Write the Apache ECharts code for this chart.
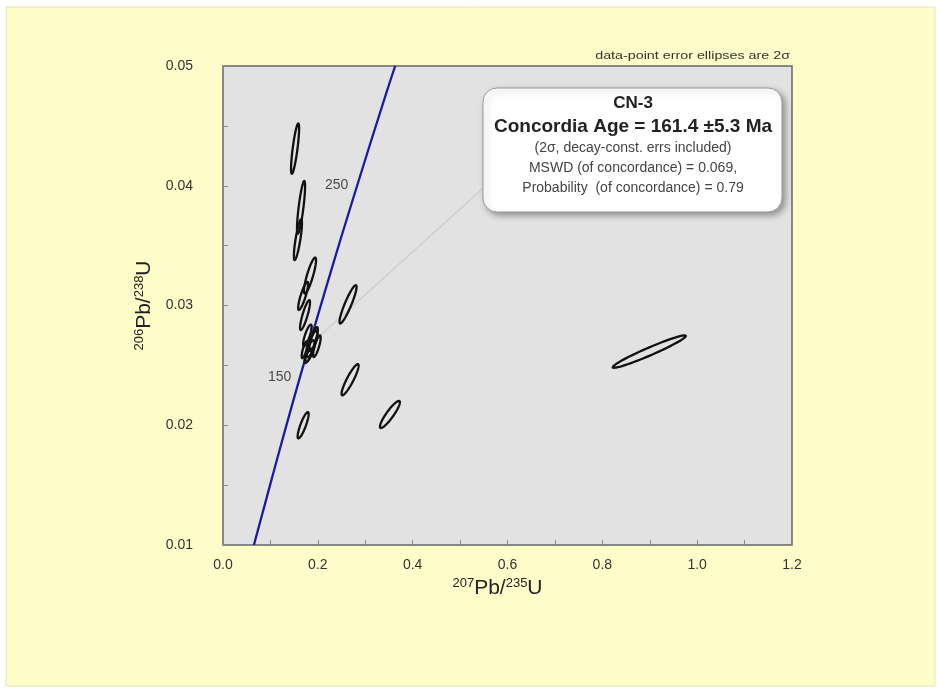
<!DOCTYPE html>
<html><head><meta charset="utf-8">
<script src="https://cdn.jsdelivr.net/npm/echarts@6/dist/echarts.min.js"></script>
<style>html,body{margin:0;padding:0;background:#fff;}#c{width:939px;height:689px;}</style>
</head><body><div id="c"></div>
<script>
// Axis ticks
const xTicks = [0.0, 0.2, 0.4, 0.6, 0.8, 1.0, 1.2];
const yTicks = [0.01, 0.02, 0.03, 0.04, 0.05];
// Error ellipses (2 sigma): centre x (207Pb/235U), centre y (206Pb/238U), half-width x, half-height y, correlation
const ellCx  = [0.152, 0.1646, 0.158, 0.1835, 0.169, 0.173, 0.178, 0.188, 0.198, 0.180, 0.183, 0.191, 0.172, 0.2637, 0.268, 0.352, 0.169, 0.899];
const ellCy  = [0.0431, 0.0382, 0.0355, 0.0325, 0.0308, 0.0292, 0.0275, 0.0268, 0.0266, 0.0258, 0.0262, 0.0272, 0.0263, 0.0301, 0.0238, 0.0209, 0.0200, 0.02615];
const ellSx  = [0.0085, 0.0085, 0.0085, 0.0127, 0.0105, 0.0105, 0.009, 0.011, 0.008, 0.008, 0.010, 0.009, 0.006, 0.018, 0.018, 0.021, 0.0116, 0.077];
const ellSy  = [0.0021, 0.0022, 0.0017, 0.0015, 0.00117, 0.00125, 0.0009, 0.0011, 0.0009, 0.0006, 0.0009, 0.0010, 0.0007, 0.0016, 0.0013, 0.00113, 0.0011, 0.00135];
const ellRho = [0.8, 0.8, 0.8, 0.85, 0.85, 0.85, 0.8, 0.8, 0.8, 0.8, 0.75, 0.8, 0.75, 0.91, 0.9, 0.9, 0.85, 0.965];
// Concordia curve points
const concX = [0.0652, 0.1035, 0.1589, 0.2175, 0.2792, 0.3435, 0.3631];
const concY = [0.0100, 0.01563, 0.02354, 0.03151, 0.03954, 0.04763, 0.0500];
// Age labels on the concordia
const ageLabels = ['150', '250'];
const ageX = [0.1589, 0.2792];
const ageY = [0.02354, 0.03954];
// Connector from concordia age to callout
const connX = [0.180, 0.568];
const connY = [0.0266, 0.0405];
// Callout text
const boxTitle = 'CN-3';
const boxAge = 'Concordia Age = 161.4 ±5.3 Ma';
const boxLines = ['(2σ, decay-const. errs included)', 'MSWD (of concordance) = 0.069,', 'Probability  (of concordance) = 0.79'];
const noteText = 'data-point error ellipses are 2σ';

const ellData = ellCx.map((c, i) => [c, ellCy[i], ellSx[i], ellSy[i], ellRho[i]]);
const chart = echarts.init(document.getElementById('c'), null, {renderer: 'canvas'});
const font = 'Liberation Sans, Arial, sans-serif';
const nameRich = {
  m: {fontSize: 21, color: '#222', fontFamily: font},
  sup: {fontSize: 13, color: '#222', fontFamily: font, verticalAlign: 'top', padding: [0, 0, 10, 0]}
};

chart.setOption({
  backgroundColor: '#ffffff',
  animation: false,
  textStyle: {fontFamily: font},
  grid: {left: 223, right: 147, top: 66, bottom: 144, show: true, backgroundColor: '#e2e2e2', borderColor: '#666', borderWidth: 1.5},
  xAxis: {
    type: 'value', min: 0, max: 1.2, interval: 0.2, z: 5,
    axisLine: {show: false},
    axisTick: {show: true, inside: true, length: 5, lineStyle: {color: '#8a8a8a'}},
    minorTick: {show: true, splitNumber: 2, length: 5, lineStyle: {color: '#8a8a8a'}},
    splitLine: {show: false},
    axisLabel: {color: '#333', fontSize: 14, fontFamily: font, margin: 13, formatter: v => v.toFixed(1)},
    name: '{sup|207}{m|Pb/}{sup|235}{m|U}', nameLocation: 'middle', nameGap: 29,
    nameTextStyle: {rich: nameRich, padding: [0, 20, 0, 0]}
  },
  yAxis: {
    type: 'value', min: 0.01, max: 0.05, interval: 0.01, z: 5,
    axisLine: {show: false},
    axisTick: {show: true, inside: true, length: 5, lineStyle: {color: '#8a8a8a'}},
    minorTick: {show: true, splitNumber: 2, length: 5, lineStyle: {color: '#8a8a8a'}},
    splitLine: {show: false},
    axisLabel: {color: '#333', fontSize: 14, fontFamily: font, margin: 30, formatter: v => v.toFixed(2)},
    name: '{sup|206}{m|Pb/}{sup|238}{m|U}', nameLocation: 'middle', nameGap: 66, nameRotate: 90,
    nameTextStyle: {rich: nameRich}
  },
  series: [
    {
      type: 'line', data: connX.map((x, i) => [x, connY[i]]), symbol: 'none', silent: true,
      lineStyle: {color: '#cdcdcd', width: 1.3}, z: 2
    },
    {
      type: 'line', data: concX.map((x, i) => [x, concY[i]]), symbol: 'none', smooth: true, silent: true,
      lineStyle: {color: '#1a1aa6', width: 2.3}, z: 3, clip: true
    },
    {
      type: 'custom', data: ellData, z: 4,
      renderItem: function (params, api) {
        const cx = api.value(0), cy = api.value(1), sx = api.value(2), sy = api.value(3), r = api.value(4);
        const pts = [];
        const q = Math.sqrt(1 - r * r);
        for (let k = 0; k < 72; k++) {
          const t = k / 72 * Math.PI * 2;
          const x = cx + sx * Math.cos(t);
          const y = cy + sy * (r * Math.cos(t) + q * Math.sin(t));
          pts.push(api.coord([x, y]));
        }
        return {type: 'polygon', shape: {points: pts}, style: {fill: 'none', stroke: '#111', lineWidth: 2.3}};
      }
    },
    {
      type: 'scatter', data: ageX.map((x, i) => [x, ageY[i], ageLabels[i]]), symbolSize: 0, z: 5,
      label: {show: true, position: 'left', distance: 7, offset: [0, -6], formatter: p => p.data[2], color: '#222', fontSize: 14, fontFamily: font}
    }
  ],
  graphic: [
    {type: 'rect', z: -10, shape: {x: 6, y: 7, width: 929, height: 679}, style: {fill: '#fefdc9', stroke: '#e6e4b8', lineWidth: 1}},
    {type: 'text', z: 10, x: 790, y: 50, scaleX: 1.3, style: {text: noteText, textAlign: 'right', fontSize: 11, fontFamily: font, fill: '#333'}},
    {type: 'rect', z: 20, shape: {x: 483, y: 88, width: 299, height: 124, r: 14},
      style: {fill: '#ffffff', stroke: '#9a9a9a', lineWidth: 1, shadowBlur: 6, shadowOffsetX: 3, shadowOffsetY: 3, shadowColor: 'rgba(0,0,0,0.35)'}},
    {type: 'text', z: 21, x: 633, y: 95, style: {text: boxTitle, textAlign: 'center', fontSize: 17, fontWeight: 'bold', fontFamily: font, fill: '#222'}},
    {type: 'text', z: 21, x: 633, y: 117, style: {text: boxAge, textAlign: 'center', fontSize: 19, fontWeight: 'bold', fontFamily: font, fill: '#222'}},
    {type: 'text', z: 21, x: 633, y: 141, style: {text: boxLines[0], textAlign: 'center', fontSize: 14, fontFamily: font, fill: '#444'}},
    {type: 'text', z: 21, x: 633, y: 161, style: {text: boxLines[1], textAlign: 'center', fontSize: 14, fontFamily: font, fill: '#444'}},
    {type: 'text', z: 21, x: 633, y: 181, style: {text: boxLines[2], textAlign: 'center', fontSize: 14, fontFamily: font, fill: '#444'}}
  ]
});
</script></body></html>
